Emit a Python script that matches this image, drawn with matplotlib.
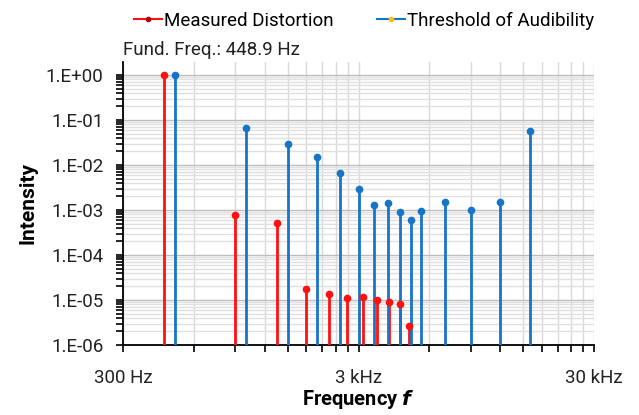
import numpy as np
import matplotlib
matplotlib.use('Agg')
import matplotlib.pyplot as plt
from matplotlib.lines import Line2D
from matplotlib.ticker import FixedLocator, FixedFormatter, NullFormatter

plt.rcParams['font.family'] = ['Roboto', 'DejaVu Sans']

# fundamental and measured distortion (harmonics n * f0)
f0 = 448.9
harmonics = np.arange(1, 12)
dist_freq = f0 * harmonics
dist_val = [1.0, 7.7e-4, 5.1e-4, 1.75e-5, 1.36e-5, 1.11e-5, 1.15e-5, 1.0e-5, 9.2e-6, 8.0e-6, 2.6e-6]

# threshold of audibility
thr_freq = [500, 1000, 1500, 2000, 2500, 3000, 3500, 4000, 4500, 5000, 5500, 7000, 9000, 12000, 16000]
thr_val = [1.0, 0.065, 0.029, 0.0153, 0.0065, 0.0029, 1.27e-3, 1.41e-3, 9.2e-4, 6.0e-4,
           9.6e-4, 1.5e-3, 1.02e-3, 1.5e-3, 0.057]

red = '#FF1010'
blue = '#1874C6'
ymin = 1e-6

fig = plt.figure(figsize=(6.39, 4.15), dpi=100)
ax = fig.add_axes([0.1925, 0.1687, 0.7371, 0.6819])

ax.vlines(dist_freq, ymin, dist_val, color=red, lw=2, zorder=3)
ax.plot(dist_freq, dist_val, 'o', color=red, ms=4.5, zorder=4)
ax.vlines(thr_freq, ymin, thr_val, color=blue, lw=2, zorder=3)
ax.plot(thr_freq, thr_val, 'o', color=blue, ms=4.5, zorder=4)

ax.set_xscale('log')
ax.set_yscale('log')
ax.set_xlim(300, 30000)
ax.set_ylim(1e-6, 1.95)

# x ticks
ax.xaxis.set_major_locator(FixedLocator([300, 3000, 30000]))
ax.xaxis.set_major_formatter(FixedFormatter(['300 Hz', '3 kHz', '30 kHz']))
xminor = [300 * k for k in range(2, 10)] + [3000 * k for k in range(2, 10)]
ax.xaxis.set_minor_locator(FixedLocator(xminor))
ax.xaxis.set_minor_formatter(NullFormatter())

# y ticks
ydec = [10.0 ** e for e in range(-6, 1)]
ax.yaxis.set_major_locator(FixedLocator(ydec))
ax.yaxis.set_major_formatter(FixedFormatter(['1.E-06', '1.E-05', '1.E-04', '1.E-03',
                                             '1.E-02', '1.E-01', '1.E+00']))
yminor = [k * d for d in ydec[:-1] for k in range(2, 10)]
ax.yaxis.set_minor_locator(FixedLocator(yminor))
ax.yaxis.set_minor_formatter(NullFormatter())

ax.tick_params(which='both', direction='out', length=5, width=1.2, color='black',
               labelsize=13.5, colors='#222222')
ax.tick_params(axis='x', which='major', pad=12)
ax.tick_params(axis='y', which='major', pad=9)

ax.grid(which='major', axis='y', color='#bdbdbd', lw=1)
ax.grid(which='minor', axis='y', color='#e0e0e0', lw=1)
ax.grid(which='both', axis='x', color='#d9d9d9', lw=1)
ax.set_axisbelow(True)

for s in ['top', 'right']:
    ax.spines[s].set_visible(False)
for s in ['left', 'bottom']:
    ax.spines[s].set_linewidth(1.3)
    ax.spines[s].set_color('black')

ax.set_ylabel('Intensity', fontsize=15, fontweight='bold', labelpad=6)
ax.set_xlabel(r'Frequency $\boldsymbol{f}$', fontsize=14.5, fontweight='bold', labelpad=1)

ax.text(0.0, 1.01, 'Fund. Freq.: 448.9 Hz', transform=ax.transAxes, fontsize=13.5,
        ha='left', va='bottom', color='#222222')

handles = [
    Line2D([], [], color=red, lw=1.5, marker='o', ms=3, mfc='#b00000', mec='#b00000'),
    Line2D([], [], color=blue, lw=1.5, marker='o', ms=3, mfc='#FFC000', mec='#FFC000'),
]
fig.legend(handles, ['Measured Distortion', 'Threshold of Audibility'], loc='center',
           bbox_to_anchor=(0.57, 0.95), ncol=2, frameon=False, fontsize=13.5,
           handlelength=1.5, handletextpad=0.1, columnspacing=2.3)

fig.savefig('out.png', dpi=100)
